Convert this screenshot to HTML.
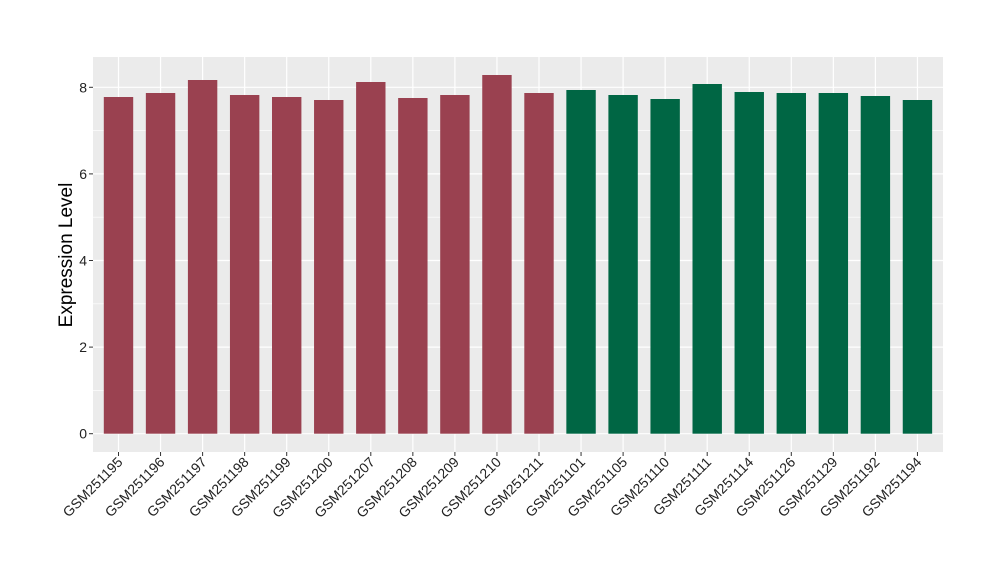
<!DOCTYPE html>
<html><head><style>body{margin:0;background:#fff}</style></head><body>
<svg width="1000" height="580" xmlns="http://www.w3.org/2000/svg" font-family="Liberation Sans, sans-serif">
<rect x="93" y="57" width="850" height="395" fill="#EBEBEB"/>
<g stroke="#fff" stroke-width="0.6">
<line x1="93" x2="943" y1="390.4" y2="390.4"/><line x1="93" x2="943" y1="303.8" y2="303.8"/><line x1="93" x2="943" y1="217.2" y2="217.2"/><line x1="93" x2="943" y1="130.6" y2="130.6"/>
</g>
<g stroke="#fff" stroke-width="1.2">
<line x1="93" x2="943" y1="433.7" y2="433.7"/><line x1="93" x2="943" y1="347.1" y2="347.1"/><line x1="93" x2="943" y1="260.5" y2="260.5"/><line x1="93" x2="943" y1="173.9" y2="173.9"/><line x1="93" x2="943" y1="87.3" y2="87.3"/>
<line x1="118.5" x2="118.5" y1="57" y2="452"/><line x1="160.55" x2="160.55" y1="57" y2="452"/><line x1="202.6" x2="202.6" y1="57" y2="452"/><line x1="244.65" x2="244.65" y1="57" y2="452"/><line x1="286.7" x2="286.7" y1="57" y2="452"/><line x1="328.75" x2="328.75" y1="57" y2="452"/><line x1="370.8" x2="370.8" y1="57" y2="452"/><line x1="412.85" x2="412.85" y1="57" y2="452"/><line x1="454.9" x2="454.9" y1="57" y2="452"/><line x1="496.95" x2="496.95" y1="57" y2="452"/><line x1="539" x2="539" y1="57" y2="452"/><line x1="581.05" x2="581.05" y1="57" y2="452"/><line x1="623.1" x2="623.1" y1="57" y2="452"/><line x1="665.15" x2="665.15" y1="57" y2="452"/><line x1="707.2" x2="707.2" y1="57" y2="452"/><line x1="749.25" x2="749.25" y1="57" y2="452"/><line x1="791.3" x2="791.3" y1="57" y2="452"/><line x1="833.35" x2="833.35" y1="57" y2="452"/><line x1="875.4" x2="875.4" y1="57" y2="452"/><line x1="917.45" x2="917.45" y1="57" y2="452"/>
</g>
<g fill="#9A4150">
<rect x="103.8" y="97" width="29.4" height="336.7"/>
<rect x="145.85" y="93" width="29.4" height="340.7"/>
<rect x="187.9" y="80" width="29.4" height="353.7"/>
<rect x="229.95" y="95" width="29.4" height="338.7"/>
<rect x="272" y="97" width="29.4" height="336.7"/>
<rect x="314.05" y="100" width="29.4" height="333.7"/>
<rect x="356.1" y="82" width="29.4" height="351.7"/>
<rect x="398.15" y="98" width="29.4" height="335.7"/>
<rect x="440.2" y="95" width="29.4" height="338.7"/>
<rect x="482.25" y="75" width="29.4" height="358.7"/>
<rect x="524.3" y="93" width="29.4" height="340.7"/>
</g>
<g fill="#006644">
<rect x="566.35" y="90" width="29.4" height="343.7"/>
<rect x="608.4" y="95" width="29.4" height="338.7"/>
<rect x="650.45" y="99" width="29.4" height="334.7"/>
<rect x="692.5" y="84" width="29.4" height="349.7"/>
<rect x="734.55" y="92" width="29.4" height="341.7"/>
<rect x="776.6" y="93" width="29.4" height="340.7"/>
<rect x="818.65" y="93" width="29.4" height="340.7"/>
<rect x="860.7" y="96" width="29.4" height="337.7"/>
<rect x="902.75" y="100" width="29.4" height="333.7"/>
</g>
<g font-size="14" fill="#222" text-anchor="end">
<text x="87" y="438.5">0</text><text x="87" y="352">2</text><text x="87" y="265.5">4</text><text x="87" y="179">6</text><text x="87" y="92.5">8</text>
</g>
<g stroke="#333" stroke-width="1">
<line x1="89" x2="93" y1="433.7" y2="433.7"/><line x1="89" x2="93" y1="347.1" y2="347.1"/><line x1="89" x2="93" y1="260.5" y2="260.5"/><line x1="89" x2="93" y1="173.9" y2="173.9"/><line x1="89" x2="93" y1="87.3" y2="87.3"/>
<line x1="118.5" x2="118.5" y1="452" y2="456"/><line x1="160.55" x2="160.55" y1="452" y2="456"/><line x1="202.6" x2="202.6" y1="452" y2="456"/><line x1="244.65" x2="244.65" y1="452" y2="456"/><line x1="286.7" x2="286.7" y1="452" y2="456"/><line x1="328.75" x2="328.75" y1="452" y2="456"/><line x1="370.8" x2="370.8" y1="452" y2="456"/><line x1="412.85" x2="412.85" y1="452" y2="456"/><line x1="454.9" x2="454.9" y1="452" y2="456"/><line x1="496.95" x2="496.95" y1="452" y2="456"/><line x1="539" x2="539" y1="452" y2="456"/><line x1="581.05" x2="581.05" y1="452" y2="456"/><line x1="623.1" x2="623.1" y1="452" y2="456"/><line x1="665.15" x2="665.15" y1="452" y2="456"/><line x1="707.2" x2="707.2" y1="452" y2="456"/><line x1="749.25" x2="749.25" y1="452" y2="456"/><line x1="791.3" x2="791.3" y1="452" y2="456"/><line x1="833.35" x2="833.35" y1="452" y2="456"/><line x1="875.4" x2="875.4" y1="452" y2="456"/><line x1="917.45" x2="917.45" y1="452" y2="456"/>
</g>
<text transform="translate(72,255) rotate(-90)" font-size="19" text-anchor="middle" fill="#000">Expression Level</text>
<g font-size="14" fill="#222" text-anchor="end">
<text transform="translate(123.5,463) rotate(-45)">GSM251195</text>
<text transform="translate(165.55,463) rotate(-45)">GSM251196</text>
<text transform="translate(207.6,463) rotate(-45)">GSM251197</text>
<text transform="translate(249.65,463) rotate(-45)">GSM251198</text>
<text transform="translate(291.7,463) rotate(-45)">GSM251199</text>
<text transform="translate(333.75,463) rotate(-45)">GSM251200</text>
<text transform="translate(375.8,463) rotate(-45)">GSM251207</text>
<text transform="translate(417.85,463) rotate(-45)">GSM251208</text>
<text transform="translate(459.9,463) rotate(-45)">GSM251209</text>
<text transform="translate(501.95,463) rotate(-45)">GSM251210</text>
<text transform="translate(544,463) rotate(-45)">GSM251211</text>
<text transform="translate(586.05,463) rotate(-45)">GSM251101</text>
<text transform="translate(628.1,463) rotate(-45)">GSM251105</text>
<text transform="translate(670.15,463) rotate(-45)">GSM251110</text>
<text transform="translate(712.2,463) rotate(-45)">GSM251111</text>
<text transform="translate(754.25,463) rotate(-45)">GSM251114</text>
<text transform="translate(796.3,463) rotate(-45)">GSM251126</text>
<text transform="translate(838.35,463) rotate(-45)">GSM251129</text>
<text transform="translate(880.4,463) rotate(-45)">GSM251192</text>
<text transform="translate(922.45,463) rotate(-45)">GSM251194</text>
</g>
</svg>
</body></html>
